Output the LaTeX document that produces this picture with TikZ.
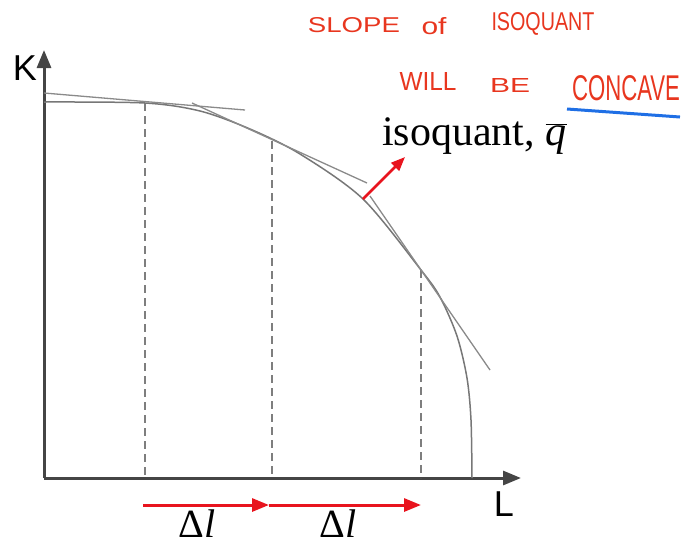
\documentclass[tikz,border=0pt]{standalone}
\usepackage{fontspec}
\setmainfont{Liberation Serif}
\newfontfamily\axisfont{Liberation Sans}
\usepackage{graphicx}
\usetikzlibrary{arrows.meta}
\definecolor{axisgray}{HTML}{454545}
\definecolor{curvegray}{HTML}{777777}
\definecolor{tangray}{HTML}{8A8A8A}
\definecolor{dashgray}{HTML}{7E7E7E}
\definecolor{penred}{HTML}{E8361F}
\definecolor{arrred}{HTML}{E8141E}
\definecolor{penblue}{HTML}{1F6FE5}
\tikzset{
  axis/.style={draw=axisgray,line width=3pt,-{Triangle[length=18pt,width=14pt]}},
  curv/.style={draw=curvegray,line width=1.5pt},
  tang/.style={draw=tangray,line width=1.3pt},
  guide/.style={draw=dashgray,line width=1.2pt,dash pattern=on 8pt off 5pt},
  redar/.style={draw=arrred,line width=3pt,-{Triangle[length=17pt,width=13pt]}},
  lbl/.style={inner sep=0pt,font=\fontsize{42}{48}\selectfont},
  axlbl/.style={inner sep=0pt,font=\axisfont\fontsize{36}{40}\selectfont,text=black},
  hand/.style={inner sep=0pt,text=penred,font=\axisfont},
}
\newcommand{\hand}[3]{\resizebox{#1pt}{#2pt}{#3}}

\begin{document}
\begin{tikzpicture}[x=1pt,y=-1pt]
  \useasboundingbox (0,0) rectangle (699,547);
  % axes
  \coordinate (o) at (44,478);
  \coordinate (ytop) at (44,50);
  \coordinate (xend) at (521,478);
  \draw[axis] (o) -- (ytop);
  \draw[axis] (o) -- (xend);
  \node[axlbl] (K) at (25,68) {K};
  \node[axlbl] (L) at (504,504) {L};
  % points on the isoquant and their feet on L
  \coordinate (p1) at (145,103);
  \coordinate (p2) at (272,141);
  \coordinate (p3) at (421,270);
  \coordinate (f1) at (145,478);
  \coordinate (f2) at (272,478);
  \coordinate (f3) at (421,478);
  \draw[guide] (p1) -- (f1);
  \draw[guide] (p2) -- (f2);
  \draw[guide] (p3) -- (f3);
  % isoquant
  \draw[curv] plot[smooth,tension=0.5] coordinates {(44,102) (145,103) (200,111) (250,129) (300,154) (363,199) (421,270) (440,297) (457,336) (467,378) (471,420) (472,478)};
  % tangents
  \coordinate (t1a) at (44,93);
  \coordinate (t1b) at (245,110);
  \coordinate (t2a) at (192,103);
  \coordinate (t2b) at (367,183);
  \coordinate (t3a) at (370,196);
  \coordinate (t3b) at (490,370);
  \draw[tang] (t1a) -- (t1b);
  \draw[tang] (t2a) -- (t2b);
  \draw[tang] (t3a) -- (t3b);
  % label and its arrow
  \node[lbl,anchor=base west] (iso) at (382,145) {isoquant, $\overline{\mbox{\textit{q}}}$};
  \coordinate (n0) at (363,199);
  \coordinate (n1) at (405,157);
  \draw[redar,line width=2.5pt,-{Triangle[length=14pt,width=11pt]}] (n0) -- (n1);
  % steps along L
  \coordinate (d0) at (143,505);
  \coordinate (d1) at (269,505);
  \coordinate (d2) at (421,505);
  \draw[redar] (d0) -- (d1);
  \draw[redar] (d1) -- (d2);
  \node[lbl,anchor=base,font=\fontsize{40}{44}\selectfont] (dl1) at (197,537) {Δ\textit{l}};
  \node[lbl,anchor=base,font=\fontsize{40}{44}\selectfont] (dl2) at (338,537) {Δ\textit{l}};
  % handwritten note
  \node[hand] (w1) at (354,25.5) {\hand{92}{15}{SLOPE}};
  \node[hand] (w2) at (434,26) {\hand{25}{17}{of}};
  \node[hand] (w3) at (543,24) {\hand{103}{18}{ISOQUANT}};
  \node[hand] (w4) at (428,81) {\hand{57}{18}{WILL}};
  \node[hand] (w5) at (510,85) {\hand{40}{14}{BE}};
  \node[hand] (w6) at (626,88) {\hand{108}{25}{CONCAVE}};
  \coordinate (u0) at (567,109);
  \coordinate (u1) at (680,117);
  \draw[penblue,line width=3pt] (u0) -- (u1);
\end{tikzpicture}
\end{document}
